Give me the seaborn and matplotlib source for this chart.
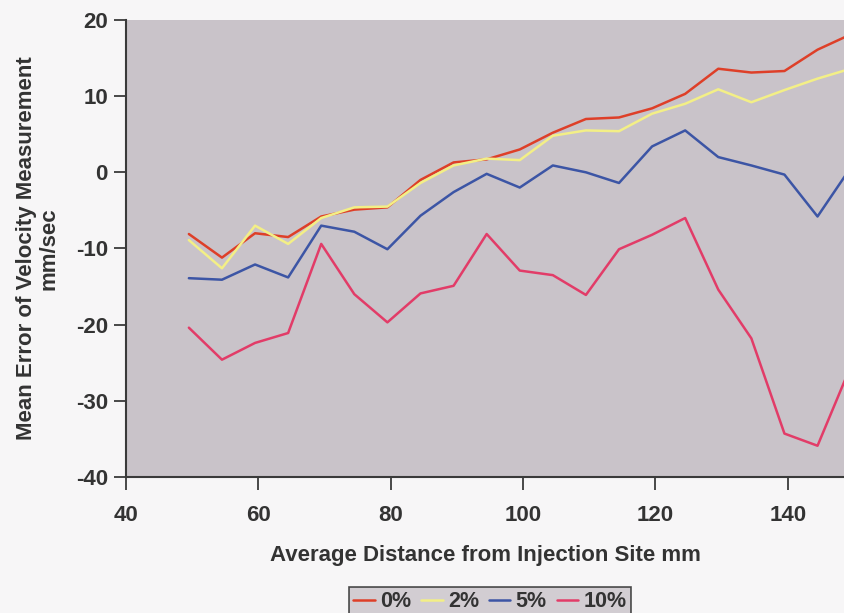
import seaborn as sns
import pandas as pd
import matplotlib.pyplot as plt

# average distance from injection site (mm)
distance = [49.5, 54.5, 59.5, 64.5, 69.5, 74.5, 79.5, 84.5, 89.5, 94.5,
            99.5, 104.5, 109.5, 114.5, 119.5, 124.5, 129.5, 134.5, 139.5, 144.5, 149.5]

# mean error of velocity measurement (mm/sec), one list per noise level
err_0 = [-8.1, -11.2, -8.0, -8.5, -5.8, -4.9, -4.6, -1.0, 1.3, 1.7,
         3.0, 5.2, 7.0, 7.2, 8.4, 10.3, 13.6, 13.1, 13.3, 16.1, 18.1]
err_2 = [-8.9, -12.6, -7.0, -9.4, -6.0, -4.6, -4.5, -1.4, 0.9, 1.8,
         1.6, 4.8, 5.5, 5.4, 7.7, 9.0, 10.9, 9.2, 10.8, 12.3, 13.6]
err_5 = [-13.9, -14.1, -12.1, -13.8, -7.0, -7.8, -10.1, -5.7, -2.6, -0.2,
         -2.0, 0.9, 0.0, -1.4, 3.4, 5.5, 2.0, 0.9, -0.3, -5.8, 0.6]
err_10 = [-20.4, -24.6, -22.4, -21.1, -9.4, -16.0, -19.7, -15.9, -14.9, -8.1,
          -12.9, -13.5, -16.1, -10.1, -8.2, -6.0, -15.4, -21.8, -34.3, -35.9, -25.5]

levels = ["0%", "2%", "5%", "10%"]
colors = ["#de3f28", "#f3ef86", "#3c55a5", "#e23c68"]

df = pd.DataFrame({"distance": distance, "0%": err_0, "2%": err_2,
                   "5%": err_5, "10%": err_10})
df = df.melt(id_vars="distance", var_name="level", value_name="error")

sns.set_style("white")
plt.rcParams["font.family"] = ["Liberation Sans", "DejaVu Sans"]
plt.rcParams["font.weight"] = "bold"
plt.rcParams["axes.unicode_minus"] = False

fig = plt.figure(figsize=(8.44, 6.13), dpi=100, facecolor="#f7f6f7")
ax = fig.add_axes([0.1493, 0.2219, 0.8507, 0.7455])
ax.set_facecolor("#c9c3c9")

sns.lineplot(data=df, x="distance", y="error", hue="level", hue_order=levels,
             palette=dict(zip(levels, colors)), linewidth=1.8, ax=ax, legend=False)

ax.set_xlim(40, 148.5)
ax.set_ylim(-40, 20)
ax.set_xticks([40, 60, 80, 100, 120, 140])
ax.set_yticks([-40, -30, -20, -10, 0, 10, 20])

for s in ["top", "right"]:
    ax.spines[s].set_visible(False)
for s in ["left", "bottom"]:
    ax.spines[s].set_color("#3a3a3a")
    ax.spines[s].set_linewidth(1.5)

ax.tick_params(axis="both", direction="out", length=9, width=1.3,
               bottom=True, left=True,
               color="#3a3a3a", labelsize=16, labelcolor="#333333")
ax.tick_params(axis="x", pad=11)
ax.tick_params(axis="y", pad=4)

ax.set_xlabel("Average Distance from Injection Site mm", fontsize=16,
              fontweight="bold", color="#333333", labelpad=14)
ax.set_ylabel("Mean Error of Velocity Measurement\nmm/sec", fontsize=16,
              fontweight="bold", color="#333333", labelpad=12, linespacing=1.05)

handles = [plt.Line2D([], [], color=c, lw=1.8) for c in colors]
leg = fig.legend(handles, levels, loc="upper center", ncol=4,
                 bbox_to_anchor=(490 / 844, 1 - 587 / 613),
                 frameon=True, fancybox=False, fontsize=15.5,
                 handlelength=1.0, handletextpad=0.25, columnspacing=0.45,
                 borderpad=0.2, borderaxespad=0)
leg.get_frame().set_facecolor("#c9c3c9")
leg.get_frame().set_edgecolor("#222222")
leg.get_frame().set_linewidth(1.2)
for t in leg.get_texts():
    t.set_color("#333333")
    t.set_fontweight("bold")

fig.savefig("out.png", dpi=100, facecolor=fig.get_facecolor())
